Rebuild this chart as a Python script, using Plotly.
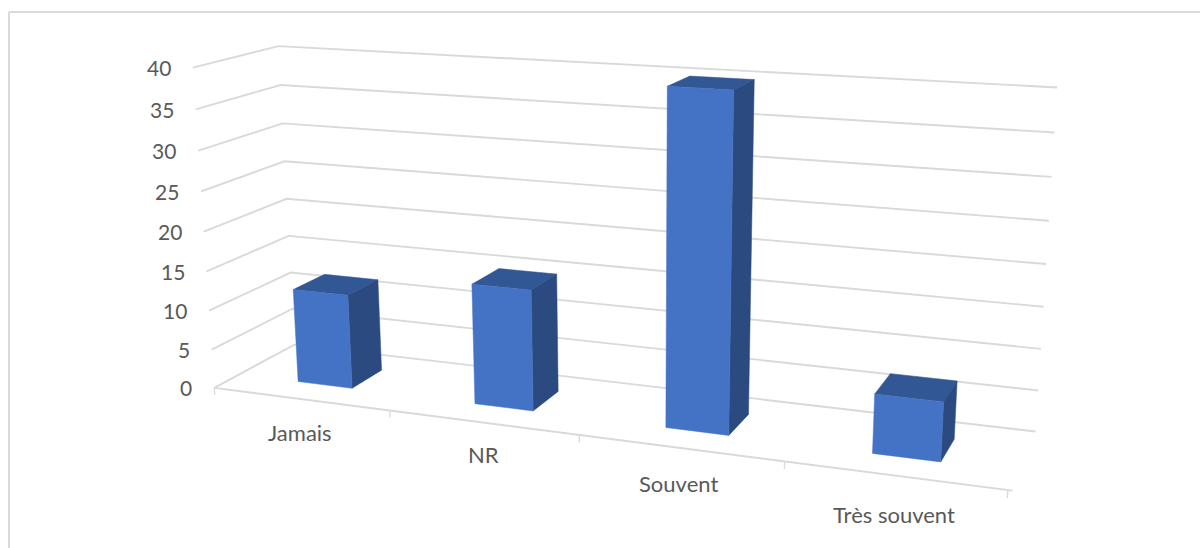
import numpy as np
import plotly.graph_objects as go

categories = ["Jamais", "NR", "Souvent", "Très souvent"]
values = [12, 15, 40, 7]
value_ticks = [0, 5, 10, 15, 20, 25, 30, 35, 40]

WIDTH, HEIGHT = 1200, 548
VALUE_MAX = 40

# Perspective view of the chart box
EYE = np.array([1.4214, -3.6664, 0.9909])
LOOK_AT = np.array([0.0282, -0.0529, -0.1115])
UP = np.array([0.0043, 0.0, 1.0])
BOX = np.array([1.8495, 0.3666, 0.7546])
FOCAL = 1835.4384
CENTRE = (612.3586, 303.164)

# Column footprint inside its category slot and inside the box depth
BAR_LEFT, BAR_RIGHT = 0.348, 0.661
BAR_FRONT, BAR_BACK = 0.30, 0.70

FRONT_COLOUR = "#4472c4"
SIDE_COLOUR = "#2a4a80"
TOP_COLOUR = "#315795"
GRID_COLOUR = "#d9d9d9"
TEXT_COLOUR = "#595959"
FONT = "Lato"
VALUE_FONT_SIZE = 21
CATEGORY_FONT_SIZE = 22
# Small nudges for the category labels, in pixels
CATEGORY_NUDGE_X = [-2, 0, -1, 2]
CATEGORY_NUDGE_Y = [0, 3, 1, -1]


def project(cat, depth, value):
    """Map (category position, depth 0-1, value) to plot coordinates."""
    n = len(categories)
    p = np.array([(cat / n - 0.5) * BOX[0], (depth - 0.5) * BOX[1],
                  (value / VALUE_MAX - 0.5) * BOX[2]])
    f = LOOK_AT - EYE
    f = f / np.linalg.norm(f)
    s = np.cross(f, UP)
    s = s / np.linalg.norm(s)
    u = np.cross(s, f)
    d = p - EYE
    zc = d @ f
    return CENTRE[0] + FOCAL * (d @ s) / zc, CENTRE[1] - FOCAL * (d @ u) / zc


def path(*corners):
    xy = [project(*c) for c in corners]
    return [q[0] for q in xy], [q[1] for q in xy]


fig = go.Figure()


def add_line(corners, width=1.9):
    x, y = path(*corners)
    fig.add_trace(go.Scatter(x=x, y=y, mode="lines", hoverinfo="skip",
                             line=dict(color=GRID_COLOUR, width=width)))


def add_face(corners, colour):
    x, y = path(*corners)
    fig.add_trace(go.Scatter(x=x + x[:1], y=y + y[:1], mode="lines", fill="toself",
                             fillcolor=colour, hoverinfo="skip",
                             line=dict(color=colour, width=0.5)))


n = len(categories)

# Value gridlines running along the left wall and then the back wall
for v in value_ticks:
    add_line([(0, 0, v), (0, 1, v), (n, 1, v)])

# Category axis with its tick marks
add_line([(0, 0, 0), (n + 0.02, 0, 0)])
for i in range(n + 1):
    add_line([(i, 0, 0), (i, 0, -0.9)], width=1.3)

# Columns
for i, v in enumerate(values):
    x0, x1 = i + BAR_LEFT, i + BAR_RIGHT
    add_face([(x0, BAR_FRONT, v), (x1, BAR_FRONT, v), (x1, BAR_BACK, v), (x0, BAR_BACK, v)], TOP_COLOUR)
    add_face([(x1, BAR_FRONT, 0), (x1, BAR_BACK, 0), (x1, BAR_BACK, v), (x1, BAR_FRONT, v)], SIDE_COLOUR)
    add_face([(x0, BAR_FRONT, 0), (x1, BAR_FRONT, 0), (x1, BAR_FRONT, v), (x0, BAR_FRONT, v)], FRONT_COLOUR)

annotations = []
for v in value_ticks:
    px, py = project(0, 0, v)
    annotations.append(dict(x=px, y=py, xref="x", yref="y", text=str(v), showarrow=False,
                            xanchor="right", yanchor="middle", xshift=-20,
                            font=dict(family=FONT, size=VALUE_FONT_SIZE, color=TEXT_COLOUR)))
for i, name in enumerate(categories):
    px, py = project(i + 0.5, 0, -4.4)
    annotations.append(dict(x=px, y=py, xref="x", yref="y", text=name, showarrow=False,
                            xanchor="center", yanchor="middle",
                            xshift=CATEGORY_NUDGE_X[i], yshift=CATEGORY_NUDGE_Y[i],
                            font=dict(family=FONT, size=CATEGORY_FONT_SIZE, color=TEXT_COLOUR)))

fig.update_layout(
    width=WIDTH, height=HEIGHT, margin=dict(l=0, r=0, t=0, b=0),
    paper_bgcolor="white", plot_bgcolor="white", showlegend=False,
    xaxis=dict(range=[0, WIDTH], visible=False, fixedrange=True),
    yaxis=dict(range=[HEIGHT, 0], visible=False, fixedrange=True),
    annotations=annotations,
    shapes=[
        dict(type="line", xref="paper", yref="y", x0=9 / WIDTH, x1=1, y0=12, y1=12,
             line=dict(color=GRID_COLOUR, width=2)),
        dict(type="line", xref="x", yref="paper", x0=9, x1=9, y0=0, y1=1 - 12 / HEIGHT,
             line=dict(color=GRID_COLOUR, width=2)),
    ],
)
fig.write_html("out.html", config=dict(displayModeBar=False))
